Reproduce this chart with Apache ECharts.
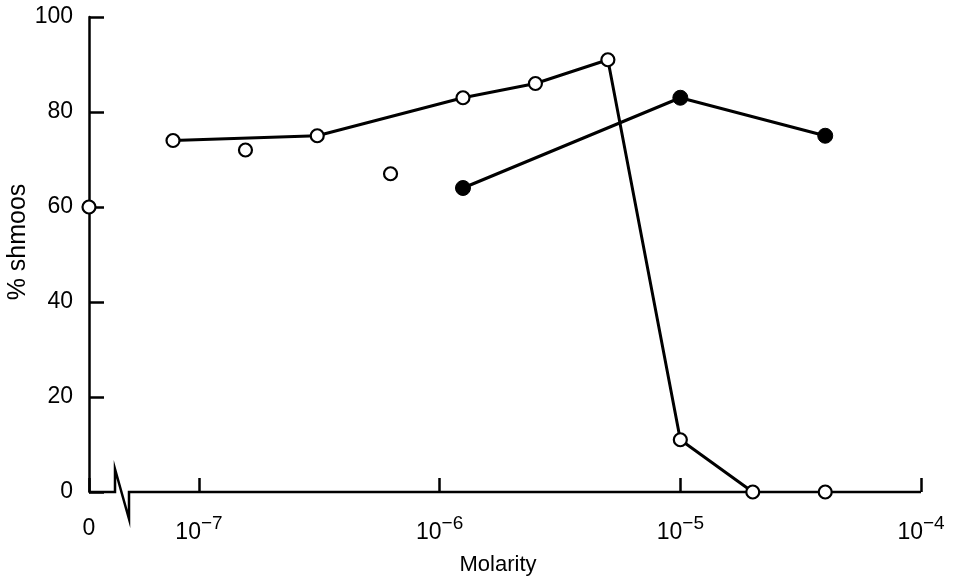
<!DOCTYPE html>
<html>
<head>
<meta charset="utf-8">
<title>% shmoos vs Molarity</title>
<script src="https://cdn.jsdelivr.net/npm/echarts@6/dist/echarts.min.js"></script>
<style>
    html, body {margin: 0; padding: 0; background: #fff;}
    #chart {width: 953px; height: 581px;}
</style>
</head>
<body>
<div id="chart"></div>
<script>

/*数据*/
let openLineX = [7.8e-8, 3.1e-7, 1.25e-6, 2.5e-6, 5e-6, 1e-5, 2e-5]; //连线的空心点
let openLineY = [74, 75, 83, 86, 91, 11, 0];
let openDotX = [1.56e-7, 6.25e-7, 4e-5]; //不连线的空心点
let openDotY = [72, 67, 0];
let filledX = [1.25e-6, 1e-5, 4e-5]; //实心点
let filledY = [64, 83, 75];
let zeroX = [0]; //零浓度
let zeroY = [60];
let yTicks = [0, 20, 40, 60, 80, 100];
let xTicks = [1e-7, 1e-6, 1e-5, 1e-4];

/*布局*/
let grid = {left: 89, right: 32, top: 17, bottom: 89, containLabel: false, outerBoundsMode: 'none'};
let axisY = 581 - grid.bottom;
let xMin = Math.pow(10, -7.457); //断轴后对数轴的起点
let font = 'Liberation Sans';

let myChart = echarts.init(document.getElementById('chart'), null, {renderer: 'canvas'});

let pairs = (xs, ys) => xs.map((x, i) => [x, ys[i]]);

/*只显示10的整数次幂*/
let logLabel = (v) => {
    for (let t of xTicks) {
        if (Math.abs(Math.log10(v) - Math.log10(t)) < 1e-6) {
            return '{b|10}{s|\u2212' + (-Math.round(Math.log10(t))) + '}';
        }
    }
    return '';
};

let openStyle = {color: '#fff', borderColor: '#000', borderWidth: 2.2, opacity: 1};
let filledStyle = {color: '#000', borderColor: '#000', borderWidth: 1, opacity: 1};

function setOption() {

    let option = {
        animation: false,
        backgroundColor: '#fff',
        grid: grid,
        xAxis: [
            {
                type: 'log',
                position: 'bottom',
                min: xMin,
                max: xTicks[xTicks.length - 1],
                axisLine: {show: false},
                splitLine: {show: false},
                minorTick: {show: false},
                axisTick: {inside: true, length: 14, lineStyle: {color: '#000', width: 2.5}},
                axisLabel: {
                    margin: 22,
                    color: '#000',
                    formatter: logLabel,
                    rich: {
                        b: {fontFamily: font, fontSize: 23, lineHeight: 30, verticalAlign: 'bottom', color: '#000'},
                        s: {fontFamily: font, fontSize: 19, lineHeight: 14, verticalAlign: 'top', color: '#000'}
                    }
                },
                name: 'Molarity',
                nameLocation: 'middle',
                nameGap: 62,
                nameMoveOverlap: false,
                nameTextStyle: {fontFamily: font, fontSize: 22, color: '#000', padding: [0, 14, 0, 0]}
            },
            {
                type: 'value',
                position: 'bottom',
                min: 0,
                max: 1,
                interval: 1,
                axisLine: {show: false},
                axisTick: {show: false},
                splitLine: {show: false},
                axisLabel: {
                    margin: 22,
                    fontFamily: font,
                    fontSize: 23,
                    lineHeight: 30,
                    color: '#000',
                    formatter: (v) => v === 0 ? '0' : ''
                }
            }
        ],
        yAxis: {
            type: 'value',
            min: yTicks[0],
            max: yTicks[yTicks.length - 1],
            interval: yTicks[1] - yTicks[0],
            axisLine: {show: true, lineStyle: {color: '#000', width: 2.5}},
            axisTick: {inside: true, length: 15, lineStyle: {color: '#000', width: 2.5}},
            splitLine: {show: false},
            axisLabel: {margin: 16, fontFamily: font, fontSize: 23, color: '#000'},
            name: '% shmoos',
            nameLocation: 'middle',
            nameGap: 58,
            nameMoveOverlap: false,
            nameTextStyle: {fontFamily: font, fontSize: 25, color: '#000', padding: [0, 0, 0, 25]}
        },
        /*断轴*/
        graphic: [
            {
                type: 'polyline',
                z: 1,
                silent: true,
                shape: {
                    points: [
                        [grid.left, axisY], [115, axisY], [115, axisY - 23],
                        [129, axisY + 27], [129, axisY], [953 - grid.right, axisY]
                    ]
                },
                style: {stroke: '#000', lineWidth: 2.5, fill: null, lineJoin: 'miter'}
            }
        ],
        series: [
            {
                type: 'line',
                xAxisIndex: 0,
                z: 5,
                data: pairs(openLineX, openLineY),
                symbol: 'circle',
                symbolSize: 13,
                showSymbol: true,
                itemStyle: openStyle,
                lineStyle: {color: '#000', width: 3},
                emphasis: {disabled: true}
            },
            {
                type: 'scatter',
                xAxisIndex: 0,
                z: 5,
                data: pairs(openDotX, openDotY),
                symbol: 'circle',
                symbolSize: 13,
                itemStyle: openStyle,
                emphasis: {disabled: true}
            },
            {
                type: 'line',
                xAxisIndex: 0,
                z: 5,
                data: pairs(filledX, filledY),
                symbol: 'circle',
                symbolSize: 15,
                showSymbol: true,
                itemStyle: filledStyle,
                lineStyle: {color: '#000', width: 3},
                emphasis: {disabled: true}
            },
            {
                type: 'scatter',
                xAxisIndex: 1,
                z: 5,
                data: pairs(zeroX, zeroY),
                symbol: 'circle',
                symbolSize: 13,
                itemStyle: openStyle,
                emphasis: {disabled: true}
            }
        ]
    };

    myChart.setOption(option);
}

setOption();

</script>
</body>
</html>
